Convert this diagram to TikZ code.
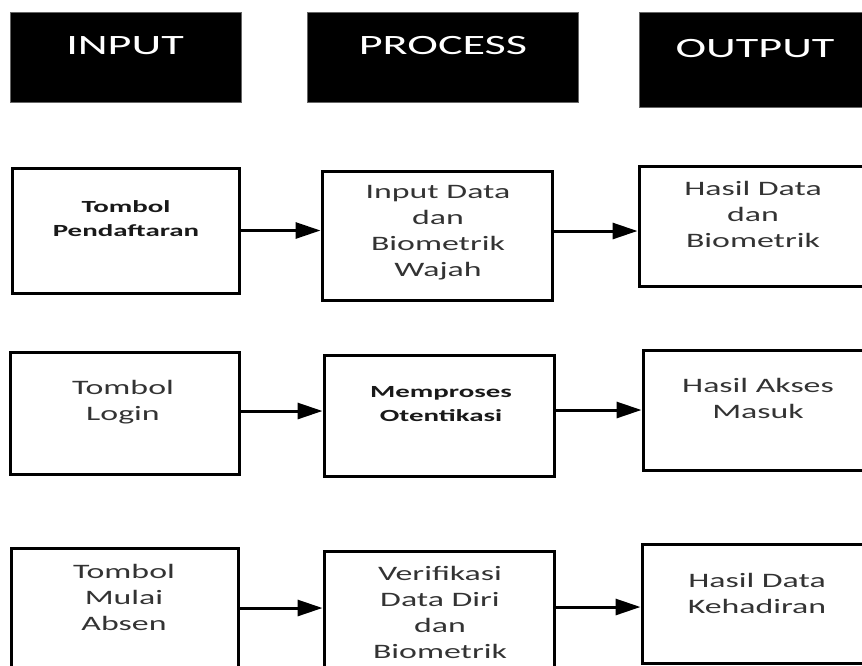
\documentclass[tikz,border=0pt]{standalone}
\usepackage{fontspec}
\setmainfont{Carlito}[FakeStretch=1.65]
\newfontfamily\tebal{Carlito}[UprightFont={* Bold},FakeStretch=1.7]
\usetikzlibrary{arrows.meta}

\begin{document}
\begin{tikzpicture}[x=1pt,y=-1pt,
    judul/.style={fill=black,draw=black!60,line width=1pt,inner sep=0pt},
    judultxt/.style={text=white,inner sep=0pt,font=\fontsize{28}{32}\selectfont},
    kotak/.style={draw,line width=3pt,inner sep=0pt},
    isi/.style={text=black!80,align=center,inner sep=0pt,font=\fontsize{20.5}{26}\selectfont},
    isitebal/.style={text=black!90,align=center,inner sep=0pt,font=\tebal\fontsize{17}{24}\selectfont},
    panah/.style={line width=3pt,-{Triangle[length=25pt,width=16pt]}}]
    \useasboundingbox (0,0) rectangle (862,665);
    \clip (0,0) rectangle (862,665);
    % judul kolom
    \node[judul,minimum width=231pt,minimum height=90pt] (hInput) at (125.5,57) {};
    \node[judul,minimum width=271pt,minimum height=90pt] (hProcess) at (442.5,57) {};
    \node[judul,minimum width=232pt,minimum height=95pt] (hOutput) at (755,59.5) {};
    \node[judultxt] (tInput) at (125,45.5) {INPUT};
    \node[judultxt] (tProcess) at (443,46) {PROCESS};
    \node[judultxt] (tOutput) at (755,48.5) {OUTPUT};
    % baris pendaftaran
    \node[kotak,minimum width=227pt,minimum height=125pt] (daftar) at (125.5,230.5) {};
    \node[kotak,minimum width=230pt,minimum height=129pt] (inputData) at (437,235.5) {};
    \node[kotak,minimum width=231pt,minimum height=120pt] (hasilData) at (754.5,226) {};
    \node[isitebal] (tDaftar) at (126,220) {\strut Tombol\\Pendaftaran\strut};
    \node[isi] (tInputData) at (438,232.5) {\strut Input Data\\dan\\Biometrik\\Wajah\strut};
    \node[isi] (tHasilData) at (753,216) {\strut Hasil Data\\dan\\Biometrik\strut};
    \draw[panah] (daftar.east) -- (daftar.east -| inputData.west);
    \draw[panah] ([yshift=4.5pt]inputData.east) -- ([yshift=4.5pt]inputData.east -| hasilData.west);
    % baris login
    \node[kotak,minimum width=229pt,minimum height=122pt] (login) at (124.5,413) {};
    \node[kotak,minimum width=230pt,minimum height=121pt] (otentikasi) at (439,415.5) {};
    \node[kotak,minimum width=227pt,minimum height=120pt] (akses) at (756.5,410) {};
    \node[isi] (tLogin) at (123,402) {\strut Tombol\\Login\strut};
    \node[isitebal] (tOtentikasi) at (441,405) {\strut Memproses\\Otentikasi\strut};
    \node[isi] (tAkses) at (758,400) {\strut Hasil Akses\\Masuk\strut};
    \draw[panah] ([yshift=2pt]login.east) -- ([yshift=2pt]login.east -| otentikasi.west);
    \draw[panah] ([yshift=5.5pt]otentikasi.east) -- ([yshift=5.5pt]otentikasi.east -| akses.west);
    % baris absen
    \node[kotak,minimum width=227pt,minimum height=120pt] (absen) at (124.5,608) {};
    \node[kotak,minimum width=230pt,minimum height=117pt] (verifikasi) at (439,609.5) {};
    \node[kotak,minimum width=228pt,minimum height=119pt] (hadir) at (756,603.5) {};
    \node[isi] (tAbsen) at (124,599.5) {\strut Tombol\\Mulai\\Absen\strut};
    \node[isi] (tVerifikasi) at (440,614) {\strut Verifikasi\\Data Diri\\dan\\Biometrik\strut};
    \node[isi] (tHadir) at (757,595.5) {\strut Hasil Data\\Kehadiran\strut};
    \draw[panah] (absen.east) -- (absen.east -| verifikasi.west);
    \draw[panah] ([yshift=2.5pt]verifikasi.east) -- ([yshift=2.5pt]verifikasi.east -| hadir.west);
\end{tikzpicture}
\end{document}
